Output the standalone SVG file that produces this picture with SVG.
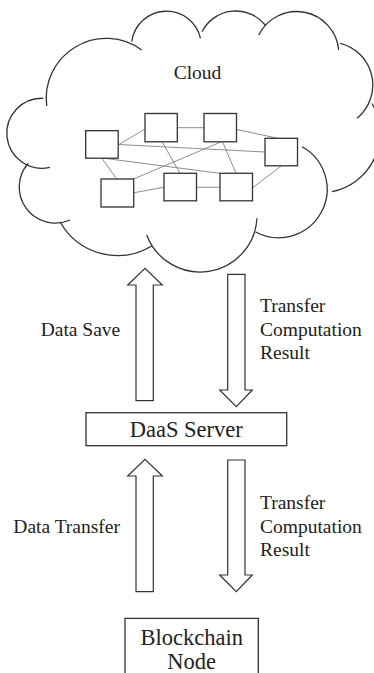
<svg xmlns="http://www.w3.org/2000/svg" width="374" height="673" viewBox="0 0 374 673">
<style>
.cloud{fill:none;stroke:#333;stroke-width:1.3}
.box{fill:#fff;stroke:#333;stroke-width:1.3}
.net{stroke:#808080;stroke-width:0.9;fill:none}
.arrow{fill:#fff;stroke:#333;stroke-width:1.2;stroke-linejoin:miter}
.t{font-family:"Liberation Serif","Times New Roman",serif;fill:#222}
.s{font-size:19.5px}
.l{font-size:22.5px}
</style>
<rect width="374" height="673" fill="#fff"/>
<g id="cloud">
<path class="cloud" d="M43.3,98.3 A35,35 0 1 0 50,167.3"/>
<path class="cloud" d="M28.3,163.3 A36,36 0 0 0 70,220"/>
<path class="cloud" d="M60,221.7 A66,66 0 0 0 151.7,246"/>
<path class="cloud" d="M146.7,235 A57,57 0 0 0 257,218.3"/>
<path class="cloud" d="M255.3,231.7 A48,48 0 1 0 302,146.7"/>
<path class="cloud" d="M332,191.7 A59.5,59.5 0 0 0 372,103.5"/>
<path class="cloud" d="M357,118.3 A43,43 0 0 0 340.3,43.3"/>
<path class="cloud" d="M338.7,50 A42.3,42.3 0 0 0 258.7,35"/>
<path class="cloud" d="M265.3,25 A38,38 0 0 0 202,31.7"/>
<path class="cloud" d="M200.5,38.3 A35,35 0 0 0 131.7,41.7"/>
<path class="cloud" d="M141.7,50 A60,60 0 0 0 46.7,106"/>
<text class="t s" x="197.5" y="79.3" text-anchor="middle">Cloud</text>
</g>
<g id="network-links">
<line class="net" x1="118" y1="145" x2="145" y2="129"/>
<line class="net" x1="177" y1="127.7" x2="204" y2="127.7"/>
<line class="net" x1="236.7" y1="129.5" x2="278" y2="138.3"/>
<line class="net" x1="118" y1="144.5" x2="265" y2="152"/>
<line class="net" x1="101.7" y1="158" x2="116.7" y2="179"/>
<line class="net" x1="102" y1="158" x2="220" y2="173.3"/>
<line class="net" x1="162" y1="141.7" x2="180" y2="173.3"/>
<line class="net" x1="221.5" y1="141.7" x2="133.5" y2="179"/>
<line class="net" x1="222.5" y1="141.7" x2="236" y2="173.3"/>
<line class="net" x1="281.5" y1="165.7" x2="252" y2="188.3"/>
<line class="net" x1="134" y1="192.7" x2="164" y2="187.3"/>
<line class="net" x1="196.5" y1="187.3" x2="220" y2="187.3"/>
</g>
<g id="cloud-nodes">
<rect class="box" x="85.7" y="130.7" width="32.5" height="27.5"/>
<rect class="box" x="145" y="113.5" width="32.3" height="28.3"/>
<rect class="box" x="204" y="113.5" width="32.5" height="28.3"/>
<rect class="box" x="265" y="138.3" width="32.5" height="27.5"/>
<rect class="box" x="101" y="179" width="32.7" height="28"/>
<rect class="box" x="164" y="173.3" width="32.5" height="27.5"/>
<rect class="box" x="220" y="173.3" width="32.5" height="27.5"/>
</g>
<g id="connectors">
<polygon class="arrow" points="136,400.7 136,285 127.7,285 145,268.3 162.3,285 153.3,285 153.3,400.7"/>
<polygon class="arrow" points="227.7,274.3 245,274.3 245,390 252.3,390 236.3,406.7 219.7,390 227.7,390"/>
<polygon class="arrow" points="136,591.7 136,476 127.7,476 145,459.3 162.3,476 153.3,476 153.3,591.7"/>
<polygon class="arrow" points="227.7,460 245,460 245,575 252.3,575 236.3,591.7 219.7,575 227.7,575"/>
</g>
<g id="label-data-save"><text class="t s" x="40.7" y="335.5">Data Save</text></g>
<g id="label-result-1"><text class="t s" x="260" y="311.7">Transfer</text><text class="t s" x="260" y="335.5">Computation</text><text class="t s" x="260" y="359">Result</text></g>
<g id="daas-server">
<rect class="box" x="86" y="412.7" width="200.7" height="33"/>
<text class="t l" x="186.3" y="437.3" text-anchor="middle">DaaS Server</text>
</g>
<g id="label-data-transfer"><text class="t s" x="13.3" y="533.3">Data Transfer</text></g>
<g id="label-result-2"><text class="t s" x="260" y="509.3">Transfer</text><text class="t s" x="260" y="532.7">Computation</text><text class="t s" x="260" y="556">Result</text></g>
<g id="blockchain-node">
<path class="box" d="M125,674 V618.3 H258.3 V674"/>
<text class="t l" x="191.7" y="644.5" text-anchor="middle">Blockchain</text>
<text class="t l" x="191.7" y="668.5" text-anchor="middle">Node</text>
</g>
</svg>
